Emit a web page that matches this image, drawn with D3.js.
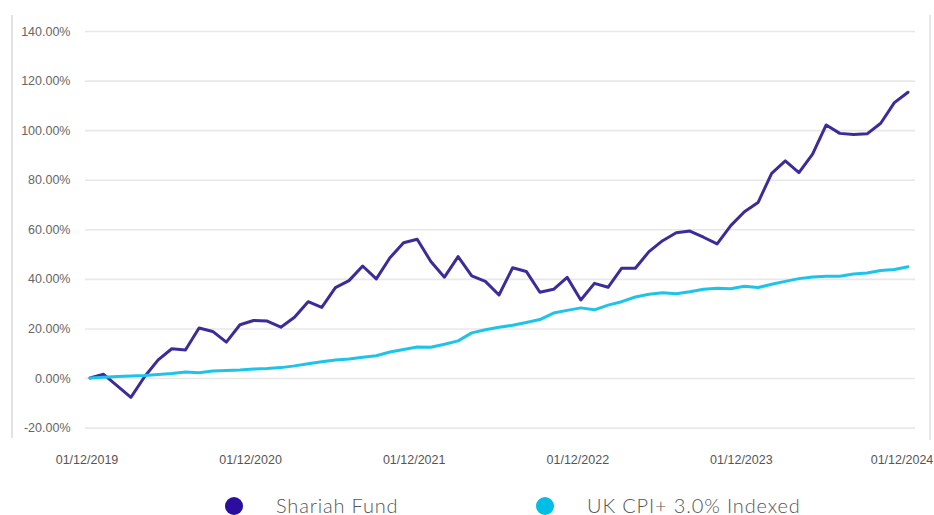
<!DOCTYPE html>
<html>
<head>
<meta charset="utf-8">
<script src="https://cdn.jsdelivr.net/npm/d3@7"></script>
<style>
  html, body { margin: 0; padding: 0; background: #fff; }
  svg { display: block; }
</style>
</head>
<body>
<svg id="chart" width="934" height="515"></svg>
<script>
// ---- data ----
const months = d3.range(61); // monthly points, 01/12/2019 .. 01/12/2024
const xTickLabels = ["01/12/2019", "01/12/2020", "01/12/2021", "01/12/2022", "01/12/2023", "01/12/2024"];
const yTicks = [-20, 0, 20, 40, 60, 80, 100, 120, 140];
const seriesNames = ["Shariah Fund", "UK CPI+ 3.0% Indexed"];
const shariahFund = [
  0, 1.5, -3.2, -7.8, 0.5, 7.3, 11.8, 11.3, 20.2, 18.8, 14.5, 21.5,
  23.2, 23.0, 20.5, 24.5, 30.8, 28.5, 36.5, 39.3, 45.2, 40.0, 48.5, 54.6,
  56.0, 47.0, 40.7, 49.0, 41.2, 39.0, 33.5, 44.5, 43.0, 34.6, 35.8, 40.6,
  31.5, 38.2, 36.6, 44.3, 44.3, 51.0, 55.4, 58.6, 59.3, 56.8, 54.1, 61.5,
  67.1, 70.8, 82.6, 87.6, 82.9, 90.3, 102.1, 98.7, 98.2, 98.5, 102.8, 111.1,
  115.3
];
const ukCpi = [
  0, 0.3, 0.6, 0.8, 1.0, 1.4, 1.8, 2.4, 2.1, 2.8, 3.0, 3.2,
  3.6, 3.8, 4.2, 4.9, 5.8, 6.6, 7.3, 7.7, 8.4, 9.0, 10.5, 11.5,
  12.5, 12.4, 13.6, 15.0, 18.2, 19.5, 20.5, 21.3, 22.4, 23.6, 26.2, 27.3,
  28.3, 27.5, 29.4, 30.8, 32.7, 33.8, 34.4, 34.0, 34.8, 35.8, 36.2, 36.0,
  37.0, 36.5, 37.8, 39.0, 40.1, 40.8, 41.1, 41.1, 42.0, 42.4, 43.4, 43.8,
  44.9
];
const colors = ["#3c2b98", "#1ec4e8"];
const legendColors = ["#2c0e9f", "#00bee6"];

// ---- chart ----
const svg = d3.select("#chart");

const x = d3.scaleLinear().domain([0, 60]).range([90, 908]);
const y = d3.scaleLinear().domain([-20, 140]).range([427.6, 31]);

// frame lines
svg.append("line").attr("x1", 12).attr("x2", 12).attr("y1", 15).attr("y2", 438)
  .attr("stroke", "#e2e2e2").attr("stroke-width", 2);
svg.append("line").attr("x1", 930).attr("x2", 930).attr("y1", 15).attr("y2", 440)
  .attr("stroke", "#e6e6e6").attr("stroke-width", 2);

// y axis with gridlines
const yAxis = d3.axisLeft(y)
  .tickValues(yTicks)
  .tickSize(-830)
  .tickPadding(14.5)
  .tickFormat(d => d.toFixed(2) + "%");
const gy = svg.append("g").attr("transform", "translate(85,0)").call(yAxis);
gy.select(".domain").remove();
gy.selectAll(".tick line").attr("stroke", "#e8e8e8").attr("stroke-width", 1.6);
gy.selectAll(".tick text")
  .attr("fill", "#666")
  .style("font-family", "'Liberation Sans', Arial, sans-serif")
  .style("font-size", "12.5px");

// x axis
const xAxis = d3.axisBottom(x)
  .tickValues([0, 12, 24, 36, 48, 60])
  .tickSize(0)
  .tickPadding(3.6)
  .tickFormat((d, i) => xTickLabels[i]);
const gx = svg.append("g").attr("transform", "translate(0,452)").call(xAxis);
gx.select(".domain").remove();
gx.selectAll(".tick text")
  .attr("dx", (d, i) => i === 5 ? -6.5 : -3.5)
  .attr("fill", "#555")
  .style("font-family", "'Liberation Sans', Arial, sans-serif")
  .style("font-size", "12.5px");

// lines
const line = d3.line().x((d, i) => x(months[i])).y(d => y(d));
[shariahFund, ukCpi].forEach((s, k) => {
  svg.append("path")
    .datum(s)
    .attr("d", line)
    .attr("fill", "none")
    .attr("stroke", colors[k])
    .attr("stroke-width", 3)
    .attr("stroke-linejoin", "round")
    .attr("stroke-linecap", "round");
});

// legend
const legendX = [234, 545];
const legend = svg.append("g");
seriesNames.forEach((name, k) => {
  legend.append("circle")
    .attr("cx", legendX[k]).attr("cy", 506).attr("r", 9)
    .attr("fill", legendColors[k]);
  legend.append("text")
    .attr("x", legendX[k] + 42).attr("y", 512.5)
    .attr("fill", "#555")
    .style("font-family", "Lato, 'Open Sans', sans-serif")
    .style("font-weight", 300)
    .style("font-size", "20px")
    .style("letter-spacing", "0.85px")
    .text(name);
});
</script>
</body>
</html>
